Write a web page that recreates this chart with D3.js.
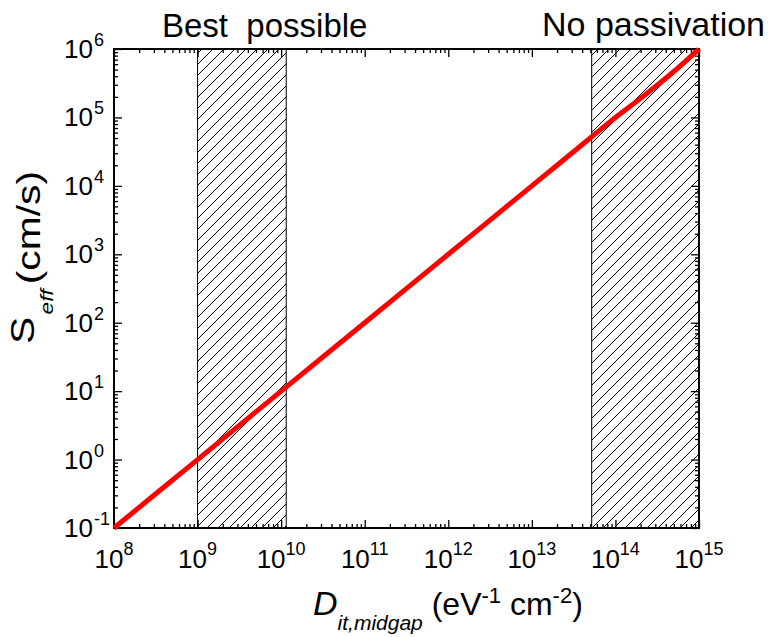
<!DOCTYPE html>
<html>
<head>
<meta charset="utf-8">
<script src="https://cdn.jsdelivr.net/npm/d3@7"></script>
<style>
  body { margin: 0; background: #fff; }
  svg { font-family: "Liberation Sans", Arial, sans-serif; }
</style>
</head>
<body>
<div id="canvas"></div>
<script>
// Dit (eV^-1 cm^-2) vs Seff (cm/s)
var ditValues  = [1e8, 1e9, 1e10, 1e11, 1e12, 1e13, 5e13, 1e14, 2e14, 4.5e14, 1e15];
var seffValues = [0.1, 1, 10, 100, 1e3, 1e4, 5e4, 1e5, 1.9e5, 4.2e5, 1e6];

// hatched regions
var bandNames  = ["Best  possible", "No passivation"];
var bandStarts = [1e9, 5.2e13];
var bandEnds   = [1.15e10, 1e15];

// tick exponents
var xExponents = [8, 9, 10, 11, 12, 13, 14, 15];
var yExponents = [-1, 0, 1, 2, 3, 4, 5, 6];

var margin = {top: 49, right: 72, bottom: 109, left: 114},
    width = 771 - margin.left - margin.right,
    height = 637 - margin.top - margin.bottom;

var x = d3.scaleLog().domain([1e8, 1e15]).range([0, width]);
var y = d3.scaleLog().domain([1e-1, 1e6]).range([height, 0]);

var svg = d3.select("#canvas").append("svg")
    .attr("width", 771)
    .attr("height", 637);

var defs = svg.append("defs");
var pat = defs.append("pattern")
    .attr("id", "hatch")
    .attr("patternUnits", "userSpaceOnUse")
    .attr("width", 11)
    .attr("height", 11);
pat.append("path")
    .attr("d", "M0,11 L11,0 M-3,3 L3,-3 M8,14 L14,8")
    .attr("stroke", "#000")
    .attr("stroke-width", 1);

var g = svg.append("g")
    .attr("transform", "translate(" + margin.left + "," + margin.top + ")");

// bands
bandStarts.forEach(function(s, i) {
  g.append("rect")
      .attr("x", x(s))
      .attr("y", 0)
      .attr("width", x(bandEnds[i]) - x(s))
      .attr("height", height)
      .attr("fill", "url(#hatch)")
      .attr("stroke", "#000")
      .attr("stroke-width", 1);
});

// minor / major ticks
function minorTicks(scale) {
  return scale.ticks(100).filter(function(v) {
    var e = Math.log10(v);
    return Math.abs(e - Math.round(e)) > 1e-6;
  });
}
var xMajor = xExponents.map(function(e) { return Math.pow(10, e); });
var yMajor = yExponents.map(function(e) { return Math.pow(10, e); });
var xMinor = minorTicks(x), yMinor = minorTicks(y);

function addAxis(axisFn, scale, vals, size, transform) {
  var a = g.append("g")
      .attr("transform", transform)
      .call(axisFn(scale).tickValues(vals).tickSize(size).tickFormat(""));
  a.select(".domain").remove();
  a.selectAll("line").attr("stroke", "#000").attr("stroke-width", 1.3);
}
addAxis(d3.axisBottom, x, xMajor, -8, "translate(0," + height + ")");
addAxis(d3.axisBottom, x, xMinor, -4, "translate(0," + height + ")");
addAxis(d3.axisTop, x, xMajor, -8, "translate(0,0)");
addAxis(d3.axisTop, x, xMinor, -4, "translate(0,0)");
addAxis(d3.axisLeft, y, yMajor, -8, "translate(0,0)");
addAxis(d3.axisLeft, y, yMinor, -4, "translate(0,0)");
addAxis(d3.axisRight, y, yMajor, -8, "translate(" + width + ",0)");
addAxis(d3.axisRight, y, yMinor, -4, "translate(" + width + ",0)");

// frame
g.append("rect")
    .attr("width", width)
    .attr("height", height)
    .attr("fill", "none")
    .attr("stroke", "#000")
    .attr("stroke-width", 2);

// x tick labels
xExponents.forEach(function(e) {
  var t = g.append("text")
      .attr("x", x(Math.pow(10, e)))
      .attr("y", height + 40)
      .attr("text-anchor", "middle")
      .attr("fill", "#000");
  t.append("tspan").attr("font-size", 26).text("10");
  t.append("tspan").attr("font-size", 18).attr("dy", -13).text(e);
});

// y tick labels
yExponents.forEach(function(e) {
  var yy = y(Math.pow(10, e));
  g.append("text")
      .attr("x", -21)
      .attr("y", yy + 9)
      .attr("text-anchor", "end")
      .attr("font-size", 26)
      .text("10");
  g.append("text")
      .attr("x", -20)
      .attr("y", yy - 3)
      .attr("font-size", 18)
      .text(e);
});

// red curve
var line = d3.line()
    .x(function(d) { return x(d[0]); })
    .y(function(d) { return y(d[1]); })
    .curve(d3.curveMonotoneX);
g.append("path")
    .datum(d3.zip(ditValues, seffValues))
    .attr("d", line)
    .attr("fill", "none")
    .attr("stroke", "#ff0000")
    .attr("stroke-width", 5);

// band titles
svg.append("text").attr("x", 162).attr("y", 37).attr("font-size", 33).attr("xml:space", "preserve").text(bandNames[0]);
svg.append("text").attr("x", 542).attr("y", 36).attr("font-size", 34).text(bandNames[1]);

// x axis title
var xt = svg.append("text").attr("x", 313).attr("y", 615).attr("xml:space", "preserve");
xt.append("tspan").attr("font-size", 34).attr("font-style", "italic").text("D");
xt.append("tspan").attr("font-size", 21).attr("font-style", "italic").attr("dy", 15).text("it,midgap");
xt.append("tspan").attr("font-size", 32).attr("dy", -15).text(" (eV");
xt.append("tspan").attr("font-size", 22).attr("dy", -12).text("-1");
xt.append("tspan").attr("font-size", 32).attr("dy", 12).text(" cm");
xt.append("tspan").attr("font-size", 22).attr("dy", -12).text("-2");
xt.append("tspan").attr("font-size", 32).attr("dy", 12).text(")");

// y axis title
var yt = svg.append("text")
    .attr("transform", "translate(34,344) rotate(-90) scale(1.2,1)");
yt.append("tspan").attr("font-size", 34).text("S");
yt.append("tspan").attr("font-size", 19).attr("font-style", "italic").attr("dx", 2).attr("dy", 19).text("eff");
yt.append("tspan").attr("font-size", 34).attr("dx", 4).attr("dy", -13).text("(cm/s)");
</script>
</body>
</html>
